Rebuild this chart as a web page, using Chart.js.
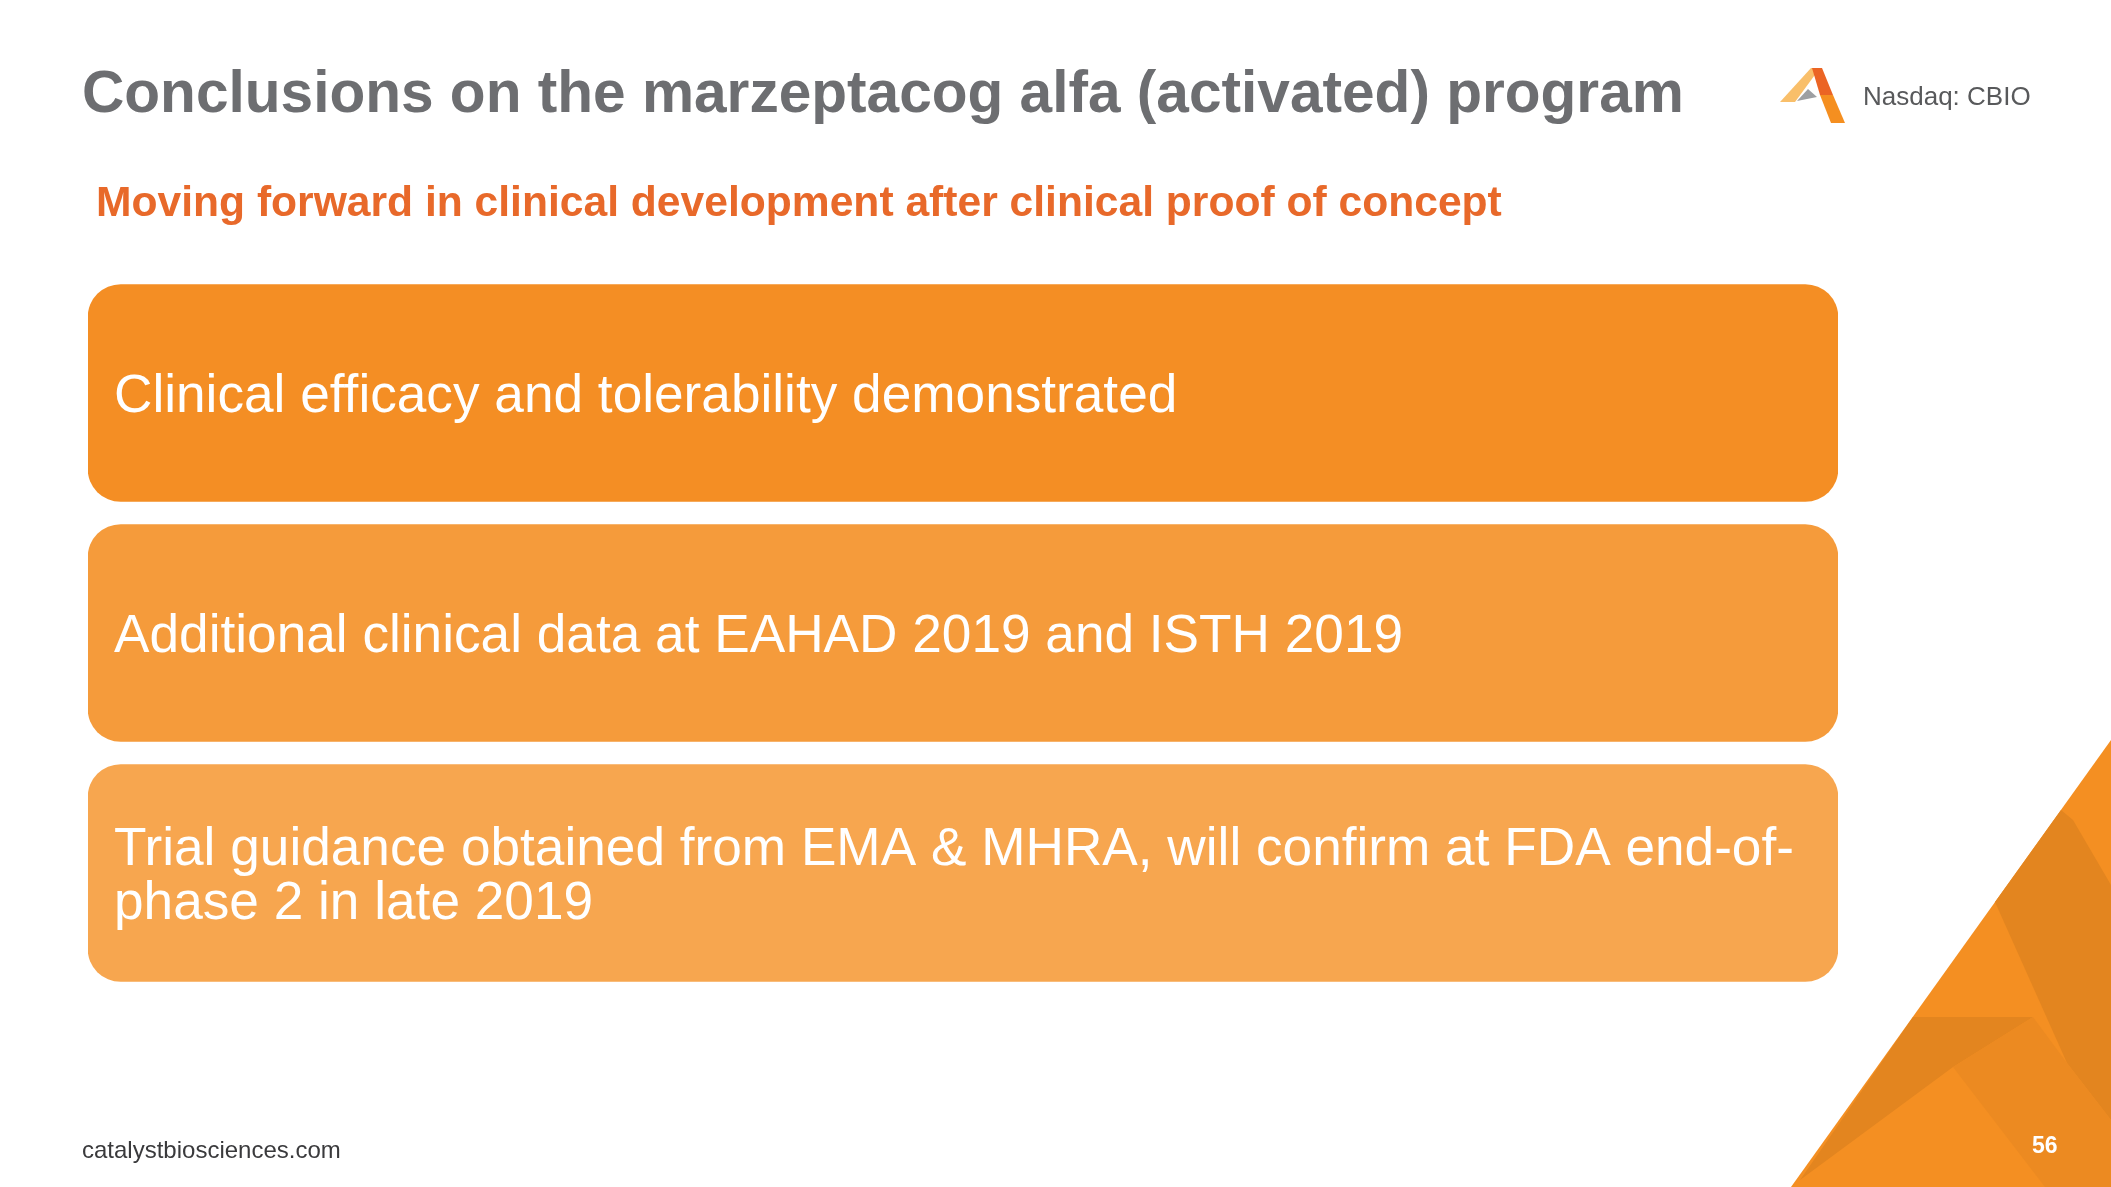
<!DOCTYPE html>
<html>
<head>
<meta charset="utf-8">
<script src="https://cdn.jsdelivr.net/npm/chart.js@4/dist/chart.umd.min.js"></script>
<style>
  body { margin: 0; background: #fff; font-family: "Liberation Sans", Arial, sans-serif; }
  #slide { position: relative; width: 2111px; height: 1187px; overflow: hidden; }
  #slideChart { position: absolute; left: 0; top: 0; }
  .txt { position: absolute; white-space: nowrap; line-height: 1; }
  #title { left: 82px; top: 63px; font-size: 58.6px; font-weight: bold; color: #6d6e71; }
  #subtitle { left: 96px; top: 180px; font-size: 42.6px; font-weight: bold; color: #e8692a; }
  #ticker { left: 1863px; top: 83px; font-size: 26px; color: #58595b; }
  #footer { left: 82px; top: 1138px; font-size: 24px; color: #3a3a3c; }
  #pageNum { left: 2032px; top: 1134px; font-size: 23px; font-weight: bold; color: #fff; }
</style>
</head>
<body>
<div id="slide">
  <canvas id="slideChart" width="2111" height="1187"></canvas>
  <div class="txt" id="title">Conclusions on the marzeptacog alfa (activated) program</div>
  <div class="txt" id="subtitle">Moving forward in clinical development after clinical proof of concept</div>
  <div class="txt" id="ticker">Nasdaq: CBIO</div>
  <div class="txt" id="footer">catalystbiosciences.com</div>
  <div class="txt" id="pageNum">56</div>
</div>
<script>
// one full-width box per conclusion
const categories = [
  ["Clinical efficacy and tolerability demonstrated"],
  ["Additional clinical data at EAHAD 2019 and ISTH 2019"],
  ["Trial guidance obtained from EMA & MHRA, will confirm at FDA end-of-", "phase 2 in late 2019"]
];
const values = [1, 1, 1];
const boxColors = ["#f48e24", "#f59b3b", "#f7a64f"];

// background corner + logo
const decorPlugin = {
  id: "decor",
  beforeDraw(chart) {
    const ctx = chart.ctx;
    const poly = (pts, color) => {
      ctx.beginPath();
      ctx.moveTo(pts[0][0], pts[0][1]);
      pts.slice(1).forEach(p => ctx.lineTo(p[0], p[1]));
      ctx.closePath();
      ctx.fillStyle = color;
      ctx.fill();
    };
    ctx.save();
    // corner triangle
    poly([[2111, 740], [2111, 1187], [1791, 1187]], "#f48f22");
    poly([[2061, 810], [2073, 820], [2111, 885], [2111, 1120], [2067, 1063], [1995, 902]], "#e3851f");
    poly([[1913, 1017], [2033, 1017], [1953, 1067], [1800, 1180]], "#e3851f");
    poly([[2033, 1017], [2067, 1063], [2111, 1120], [2111, 1187], [2045, 1187], [1953, 1067]], "#ec8a21");
    // logo
    poly([[1780, 102], [1795, 102], [1820, 68], [1811, 68]], "#f9bf6a");
    poly([[1797, 101], [1808, 89], [1817, 97]], "#9d9fa2");
    poly([[1812, 68], [1822, 68], [1833, 95], [1820, 95]], "#eb6424");
    poly([[1820, 95], [1833, 95], [1845, 123], [1831, 123]], "#f58f20");
    ctx.restore();
  }
};

// statement text inside each box
const boxLabelPlugin = {
  id: "boxLabels",
  afterDatasetsDraw(chart) {
    const ctx = chart.ctx;
    const meta = chart.getDatasetMeta(0);
    const fontSize = 53.2;
    const lineH = 54;
    ctx.save();
    ctx.fillStyle = "#ffffff";
    ctx.font = fontSize + "px 'Liberation Sans', Arial, sans-serif";
    ctx.textAlign = "left";
    ctx.textBaseline = "alphabetic";
    meta.data.forEach((bar, i) => {
      const lines = categories[i];
      const x = bar.base + 26;
      const firstMid = bar.y - (lines.length - 1) * lineH / 2;
      lines.forEach((line, j) => {
        ctx.fillText(line, x, firstMid + j * lineH + fontSize * 0.36);
      });
    });
    ctx.restore();
  }
};

new Chart(document.getElementById("slideChart"), {
  type: "bar",
  data: {
    labels: categories,
    datasets: [{
      data: values,
      backgroundColor: boxColors,
      borderRadius: 33,
      borderSkipped: false,
      barThickness: 217
    }]
  },
  options: {
    indexAxis: "y",
    responsive: false,
    animation: false,
    layout: { padding: { left: 88, right: 273, top: 273, bottom: 194 } },
    scales: {
      x: { display: false, min: 0, max: 1 },
      y: { display: false }
    },
    plugins: { legend: { display: false }, tooltip: { enabled: false } }
  },
  plugins: [decorPlugin, boxLabelPlugin]
});
</script>
</body>
</html>
